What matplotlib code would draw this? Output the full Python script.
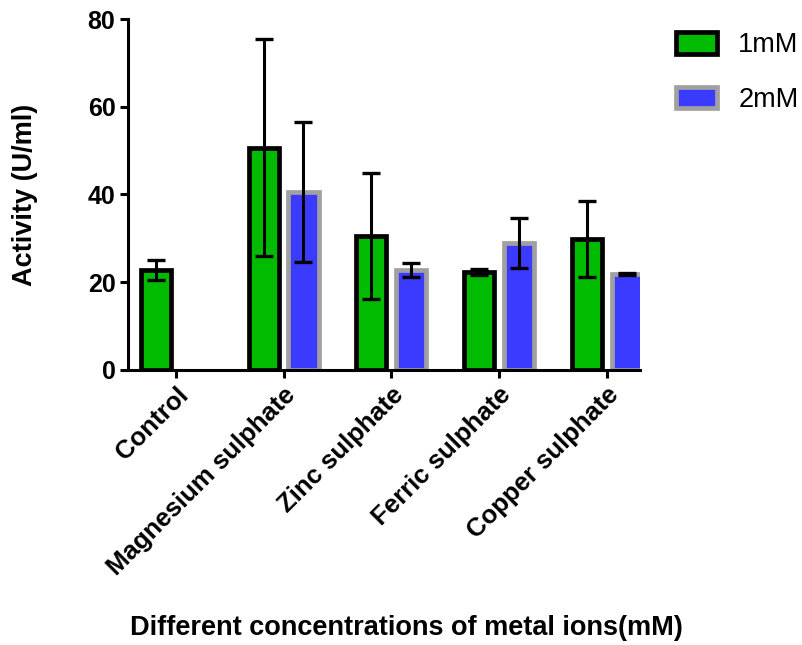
import numpy as np
import matplotlib.pyplot as plt
from matplotlib.patches import Patch

plt.rcParams["font.family"] = ["Liberation Sans", "DejaVu Sans"]

categories = ["Control", "Magnesium sulphate", "Zinc sulphate", "Ferric sulphate", "Copper sulphate"]
mean_1mM = [22.8, 50.7, 30.6, 22.4, 29.9]
err_1mM = [2.2, 24.8, 14.4, 0.7, 8.7]
mean_2mM = [np.nan, 40.6, 22.8, 29.0, 21.9]
err_2mM = [np.nan, 15.9, 1.6, 5.7, 0.3]

x = np.arange(len(categories))
w = 0.28
off = 0.185

fig = plt.figure(figsize=(8.02, 6.45), dpi=100)
ax = fig.add_axes([0.1596, 0.4264, 0.638, 0.5441])

green = "#00bb00"
blue = "#3b3bff"
grey = "#a0a0a0"

ax.bar(x - off, mean_1mM, w, color=green, edgecolor="black", linewidth=3.4, zorder=2)
ax.errorbar(x - off, mean_1mM, yerr=err_1mM, fmt="none", ecolor="black",
            elinewidth=2.2, capsize=6.5, capthick=2.4, zorder=3)
ax.bar(x + off, mean_2mM, w, color=blue, edgecolor=grey, linewidth=3.4, zorder=2)
ax.errorbar(x + off, mean_2mM, yerr=err_2mM, fmt="none", ecolor="black",
            elinewidth=2.2, capsize=6.5, capthick=2.4, zorder=3)

ax.set_xlim(-0.444, 4.306)
ax.set_ylim(0, 80)
ax.set_yticks([0, 20, 40, 60, 80])
ax.set_xticks(x)
ax.set_xticklabels(categories, rotation=45, ha="right", rotation_mode="anchor",
                   fontsize=18.5, fontweight="bold")
for lab in ax.get_yticklabels():
    lab.set_fontsize(18)
    lab.set_fontweight("bold")

for s in ["top", "right"]:
    ax.spines[s].set_visible(False)
for s in ["left", "bottom"]:
    ax.spines[s].set_linewidth(2.2)
ax.tick_params(width=2.2, length=6, pad=3)

ax.set_ylabel("Activity (U/ml)", fontsize=19.5, fontweight="bold")
ax.yaxis.set_label_coords(-0.176, 0.5)
fig.text(0.507, 0.026, "Different concentrations of metal ions(mM)", ha="center",
         va="center", fontsize=19.5, fontweight="bold")

handles = [Patch(facecolor=green, edgecolor="black", linewidth=3.4, label="1mM"),
           Patch(facecolor=blue, edgecolor=grey, linewidth=3.4, label="2mM")]
fig.legend(handles=handles, loc="upper left", bbox_to_anchor=(676 / 802, 1 - 32 / 645),
           frameon=False, fontsize=19.5, handlelength=1.5, handleheight=0.85,
           handletextpad=0.8, labelspacing=1.05, borderpad=0, borderaxespad=0)

fig.savefig("out.png", dpi=100)
